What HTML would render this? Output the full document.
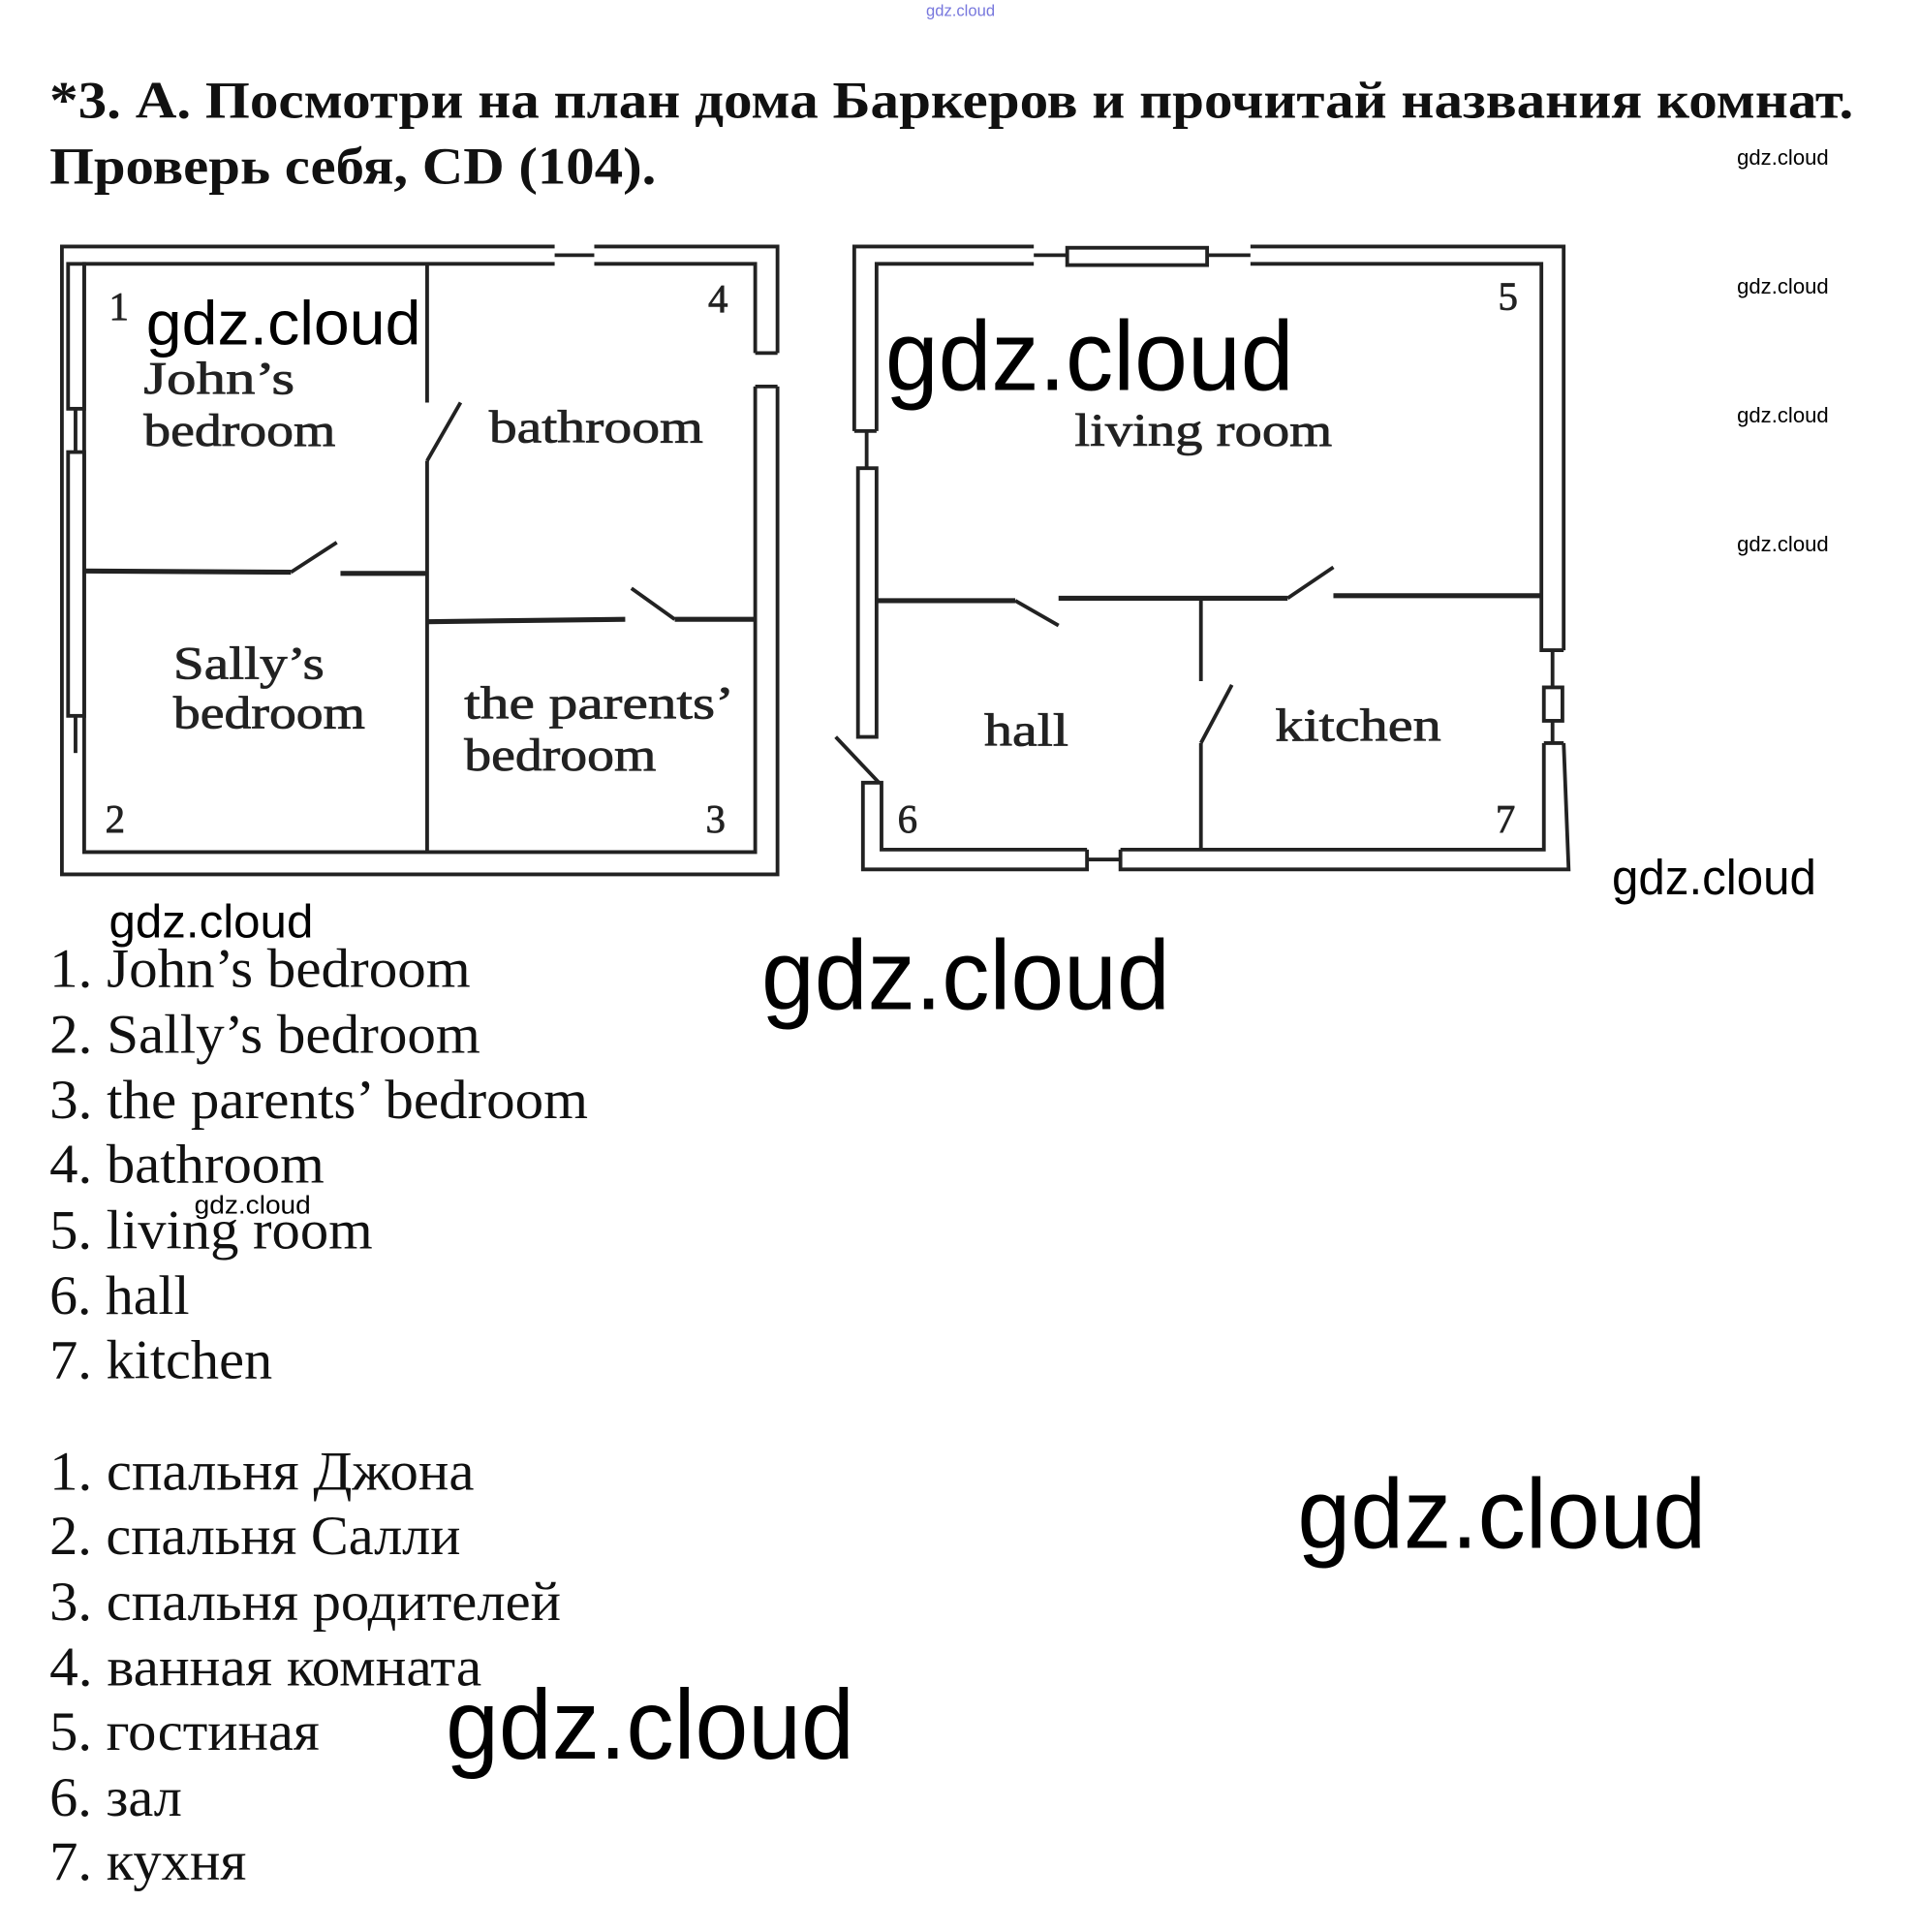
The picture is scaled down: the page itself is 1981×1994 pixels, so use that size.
<!DOCTYPE html>
<html><head><meta charset="utf-8"><style>
html,body{margin:0;padding:0;background:#fff;width:1981px;height:1994px;overflow:hidden}
svg{display:block}
.s{font-family:"Liberation Serif",serif;fill:#111}
.w{font-family:"Liberation Sans",sans-serif;fill:#000}
.pl{font-family:"Liberation Serif",serif;fill:#222;font-size:37px;stroke:#222;stroke-width:0.6}
</style></head><body>
<svg width="1981" height="1994" viewBox="0 0 1550 1560" xmlns="http://www.w3.org/2000/svg">
<text x="748" y="13" class="w" font-size="13" style="fill:#7777dd">gdz.cloud</text>
<text x="40" y="95" class="s" font-size="42" font-weight="bold" textLength="1457" lengthAdjust="spacingAndGlyphs">*3. А. Посмотри на план дома Баркеров и прочитай названия комнат.</text>
<text x="40" y="148" class="s" font-size="42" font-weight="bold" textLength="490" lengthAdjust="spacingAndGlyphs">Проверь себя, CD (104).</text>

<g stroke="#222" stroke-width="3" fill="none">
<polyline points="448,199 50,199 50,706 628,706 628,312"/>
<polyline points="480,199 628,199 628,285"/>
<polyline points="448,213 68,213 68,688 610,688 610,312"/>
<polyline points="480,213 610,213 610,285"/>
<line x1="448" y1="206" x2="480" y2="206"/>
<line x1="610" y1="285" x2="628" y2="285"/><line x1="610" y1="312" x2="628" y2="312"/>
<rect x="55" y="213" width="13" height="117"/>
<line x1="61" y1="330" x2="61" y2="365"/>
<rect x="55" y="365" width="13" height="213"/>
<line x1="61" y1="578" x2="61" y2="608"/>
<line x1="345" y1="213" x2="345" y2="325"/>
<line x1="345" y1="372" x2="372" y2="325"/>
<line x1="345" y1="372" x2="345" y2="688"/>
<line x1="68" y1="461" x2="235" y2="462" stroke-width="4"/>
<line x1="235" y1="462" x2="272" y2="438"/>
<line x1="275" y1="463" x2="345" y2="463" stroke-width="4"/>
<line x1="345" y1="502" x2="505" y2="500" stroke-width="4"/>
<line x1="510" y1="475" x2="545" y2="500"/>
<line x1="545" y1="500" x2="610" y2="500" stroke-width="4"/>

<polyline points="835,199 690,199 690,348"/>
<polyline points="835,213 708,213 708,348"/>
<line x1="690" y1="348" x2="708" y2="348"/>
<line x1="835" y1="206" x2="862" y2="206"/>
<rect x="862" y="200" width="113" height="14"/>
<line x1="975" y1="206" x2="1010" y2="206"/>
<polyline points="1010,199 1263,199 1263,525"/>
<polyline points="1010,213 1245,213 1245,525 1263,525"/>
<line x1="1254" y1="525" x2="1254" y2="555"/>
<rect x="1247" y="555" width="15" height="27"/>
<line x1="1254" y1="582" x2="1254" y2="600"/>
<polyline points="1247,600 1247,686 905,686"/>
<polyline points="1263,600 1267,702 905,702 905,686"/>
<line x1="878" y1="694" x2="905" y2="694"/>
<polyline points="878,686 712,686 712,632 697,632 697,702 878,702 878,686"/>
<line x1="1247" y1="600" x2="1263" y2="600"/>
<line x1="700" y1="348" x2="700" y2="378"/>
<rect x="693" y="378" width="15" height="217"/>
<line x1="675" y1="595" x2="710" y2="632"/>
<line x1="708" y1="485" x2="820" y2="485" stroke-width="4"/>
<line x1="820" y1="485" x2="855" y2="505"/>
<line x1="855" y1="483" x2="1040" y2="483" stroke-width="4"/>
<line x1="1040" y1="483" x2="1077" y2="458"/>
<line x1="1077" y1="481" x2="1245" y2="481" stroke-width="4"/>
<line x1="970" y1="485" x2="970" y2="550"/>
<line x1="970" y1="600" x2="995" y2="553"/>
<line x1="970" y1="600" x2="970" y2="686"/>
</g>

<g class="pl">
<text x="88" y="258" font-size="32">1</text>
<text x="116" y="318" textLength="122" lengthAdjust="spacingAndGlyphs">John’s</text>
<text x="116" y="360" textLength="155" lengthAdjust="spacingAndGlyphs">bedroom</text>
<text x="572" y="252" font-size="32">4</text>
<text x="395" y="357" textLength="173" lengthAdjust="spacingAndGlyphs">bathroom</text>
<text x="140" y="548" textLength="122" lengthAdjust="spacingAndGlyphs">Sally’s</text>
<text x="140" y="588" textLength="155" lengthAdjust="spacingAndGlyphs">bedroom</text>
<text x="375" y="580" textLength="218" lengthAdjust="spacingAndGlyphs">the parents’</text>
<text x="375" y="622" textLength="155" lengthAdjust="spacingAndGlyphs">bedroom</text>
<text x="85" y="672" font-size="32">2</text>
<text x="570" y="672" font-size="32">3</text>
<text x="1210" y="250" font-size="32">5</text>
<text x="868" y="360" textLength="208" lengthAdjust="spacingAndGlyphs">living room</text>
<text x="795" y="602" textLength="68" lengthAdjust="spacingAndGlyphs">hall</text>
<text x="1030" y="598" textLength="134" lengthAdjust="spacingAndGlyphs">kitchen</text>
<text x="725" y="672" font-size="32">6</text>
<text x="1208" y="672" font-size="32">7</text>
</g>

<g class="s" font-size="45">
<text x="40" y="797" textLength="340" lengthAdjust="spacingAndGlyphs">1. John’s bedroom</text>
<text x="40" y="850" textLength="348" lengthAdjust="spacingAndGlyphs">2. Sally’s bedroom</text>
<text x="40" y="903" textLength="435" lengthAdjust="spacingAndGlyphs">3. the parents’ bedroom</text>
<text x="40" y="955" textLength="222" lengthAdjust="spacingAndGlyphs">4. bathroom</text>
<text x="40" y="1008" textLength="261" lengthAdjust="spacingAndGlyphs">5. living room</text>
<text x="40" y="1061" textLength="113" lengthAdjust="spacingAndGlyphs">6. hall</text>
<text x="40" y="1113" textLength="180" lengthAdjust="spacingAndGlyphs">7. kitchen</text>
<text x="40" y="1203" textLength="343" lengthAdjust="spacingAndGlyphs">1. спальня Джона</text>
<text x="40" y="1255" textLength="332" lengthAdjust="spacingAndGlyphs">2. спальня Салли</text>
<text x="40" y="1308" textLength="413" lengthAdjust="spacingAndGlyphs">3. спальня родителей</text>
<text x="40" y="1361" textLength="349" lengthAdjust="spacingAndGlyphs">4. ванная комната</text>
<text x="40" y="1413" textLength="218" lengthAdjust="spacingAndGlyphs">5. гостиная</text>
<text x="40" y="1466" textLength="107" lengthAdjust="spacingAndGlyphs">6. зал</text>
<text x="40" y="1518" textLength="159" lengthAdjust="spacingAndGlyphs">7. кухня</text>
</g>

<g class="w">
<text x="118" y="278" font-size="50" textLength="222" lengthAdjust="spacingAndGlyphs">gdz.cloud</text>
<text x="715" y="315" font-size="80" textLength="330" lengthAdjust="spacingAndGlyphs">gdz.cloud</text>
<text x="1302" y="722" font-size="40" textLength="165" lengthAdjust="spacingAndGlyphs">gdz.cloud</text>
<text x="88" y="757" font-size="38" textLength="165" lengthAdjust="spacingAndGlyphs">gdz.cloud</text>
<text x="615" y="815" font-size="80" textLength="330" lengthAdjust="spacingAndGlyphs">gdz.cloud</text>
<text x="1048" y="1250" font-size="80" textLength="330" lengthAdjust="spacingAndGlyphs">gdz.cloud</text>
<text x="360" y="1420" font-size="80" textLength="330" lengthAdjust="spacingAndGlyphs">gdz.cloud</text>
<text x="1403" y="133" font-size="17" textLength="74" lengthAdjust="spacingAndGlyphs">gdz.cloud</text>
<text x="1403" y="237" font-size="17" textLength="74" lengthAdjust="spacingAndGlyphs">gdz.cloud</text>
<text x="1403" y="341" font-size="17" textLength="74" lengthAdjust="spacingAndGlyphs">gdz.cloud</text>
<text x="1403" y="445" font-size="17" textLength="74" lengthAdjust="spacingAndGlyphs">gdz.cloud</text>
<text x="157" y="980" font-size="20" textLength="94" lengthAdjust="spacingAndGlyphs">gdz.cloud</text>
</g>
</svg>
</body></html>
